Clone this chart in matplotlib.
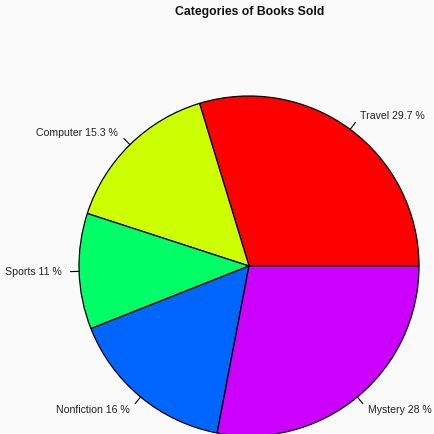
import numpy as np
import matplotlib.pyplot as plt

plt.rcParams['font.family'] = ['Liberation Sans', 'DejaVu Sans']

# book sales share by category
categories = ["Travel", "Computer", "Sports", "Nonfiction", "Mystery"]
shares = [29.7, 15.3, 11, 16, 28]
colors = ["#FF0000", "#CCFF00", "#00FF66", "#0066FF", "#CC00FF"]

W, H = 435, 434
cx, cy, r = 249, 266, 170

fig = plt.figure(figsize=(W / 100, H / 100), dpi=100, facecolor="#FAFAFA")
ax = fig.add_axes([0, 0, 1, 1])
ax.set_facecolor("#FAFAFA")
ax.axis("off")

ax.pie(shares, colors=colors, startangle=0, counterclock=True, radius=1,
       center=(0, 0), frame=False,
       wedgeprops=dict(edgecolor="black", linewidth=0.9))
ax.set_xlim(-cx / r, (W - cx) / r)
ax.set_ylim((cy - H) / r, cy / r)
ax.set_aspect("auto")

# label ticks and text, R pie() style
cum = np.cumsum([0] + shares)
total = sum(shares)
for name, s, a0, a1 in zip(categories, shares, cum[:-1], cum[1:]):
    mid = np.deg2rad((a0 + a1) / 2 / total * 360)
    c, sn = np.cos(mid), np.sin(mid)
    ax.plot([c, 1.05 * c], [sn, 1.05 * sn], color="black", lw=0.8)
    ax.text(1.1 * c, 1.1 * sn, f"{name} {s:g} %", fontsize=7.6, color="#222222",
            ha="left" if c > 0 else "right", va="center")

fig.text(250 / W, 1 - 12 / H, "Categories of Books Sold", fontsize=8.8,
         fontweight="bold", ha="center", va="center", color="#111111")

fig.savefig("out.png", dpi=100, facecolor=fig.get_facecolor())
